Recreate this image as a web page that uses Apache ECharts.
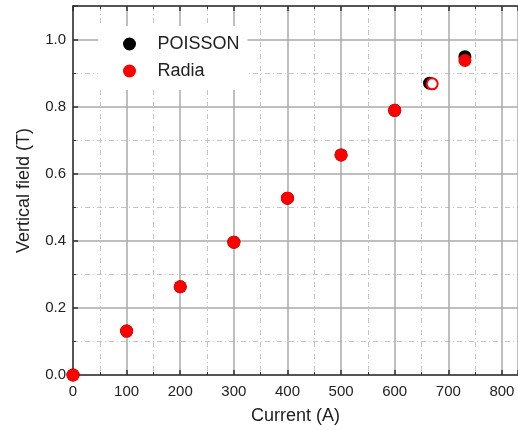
<!DOCTYPE html>
<html>
<head>
<meta charset="utf-8">
<title>Vertical field vs current</title>
<script src="https://cdn.jsdelivr.net/npm/echarts@6/dist/echarts.min.js"></script>
<style>
  html, body { margin: 0; padding: 0; background: #fff; }
  #main { width: 518px; height: 430px; }
</style>
</head>
<body>
<div id="main"></div>
<script>
// readings
var poissonCurrent = [0, 100, 200, 300, 400, 500, 600, 665, 731];
var poissonField   = [0, 0.131, 0.263, 0.396, 0.527, 0.656, 0.789, 0.870, 0.949];
var radiaCurrent   = [0, 100, 200, 300, 400, 500, 600, 670, 731];
var radiaField     = [0, 0.131, 0.263, 0.396, 0.527, 0.656, 0.789, 0.868, 0.9375];
var hollowIndex = 7; // open marker in the Radia series

function pairs(xs, ys) {
  return xs.map(function (x, i) { return [x, ys[i]]; });
}

var radiaData = pairs(radiaCurrent, radiaField).map(function (p, i) {
  if (i === hollowIndex) {
    return { value: p, itemStyle: { color: '#fff', borderColor: '#ff0000', borderWidth: 2 }, symbolSize: 11 };
  }
  return p;
});

var font = 'Liberation Sans, Arial, sans-serif';
var axisLine = { show: true, onZero: false, lineStyle: { color: '#333', width: 1.5 } };
var majorGrid = { show: true, lineStyle: { color: '#aaa', width: 1.5 } };
var minorGrid = { show: true, lineStyle: { color: '#c4c4c4', width: 1, type: [5, 3, 1, 3] } };
var tickIn = { show: true, inside: true, length: 5, lineStyle: { color: '#333', width: 1.5 } };
var minorIn = { show: true, inside: true, length: 3, splitNumber: 2, lineStyle: { color: '#333', width: 1 } };

var chart = echarts.init(document.getElementById('main'));
chart.setOption({
  animation: false,
  grid: { left: 73, right: 0, top: 6, bottom: 54 },
  legend: {
    orient: 'vertical',
    left: 98, top: 26,
    padding: [9, 8, 10, 25],
    itemGap: 9,
    itemWidth: 14, itemHeight: 13,
    backgroundColor: '#fff',
    textStyle: { fontSize: 18, color: '#222', fontFamily: font, padding: [0, 0, 0, 16] },
    data: [
      { name: 'POISSON', icon: 'circle' },
      { name: 'Radia', icon: 'circle' }
    ]
  },
  xAxis: [{
    type: 'value', min: 0, max: 830, interval: 100,
    name: 'Current (A)', nameLocation: 'middle', nameGap: 32,
    nameTextStyle: { fontSize: 18, color: '#222', fontFamily: font },
    axisLine: axisLine, axisTick: tickIn, minorTick: minorIn,
    splitLine: majorGrid, minorSplitLine: minorGrid,
    axisLabel: { showMaxLabel: false, fontSize: 15, color: '#222', margin: 9, fontFamily: font }
  }, {
    type: 'value', position: 'top', min: 0, max: 830, interval: 100,
    axisLine: axisLine, axisTick: tickIn, minorTick: minorIn,
    splitLine: { show: false }, axisLabel: { show: false }
  }],
  yAxis: {
    type: 'value', min: 0, max: 1.1, interval: 0.2,
    name: 'Vertical field (T)', nameLocation: 'middle', nameGap: 40,
    nameTextStyle: { fontSize: 18, color: '#222', fontFamily: font },
    axisLine: axisLine, axisTick: tickIn, minorTick: minorIn,
    splitLine: majorGrid, minorSplitLine: minorGrid,
    axisLabel: {
      showMaxLabel: false, fontSize: 15, color: '#222', margin: 7, fontFamily: font,
      formatter: function (v) { return v.toFixed(1); }
    }
  },
  series: [{
    name: 'POISSON', type: 'scatter', symbol: 'circle', symbolSize: 13,
    itemStyle: { color: '#000', opacity: 1 },
    data: pairs(poissonCurrent, poissonField)
  }, {
    name: 'Radia', type: 'scatter', symbol: 'circle', symbolSize: 13,
    itemStyle: { color: '#ff0000', opacity: 1 },
    data: radiaData
  }]
});
</script>
</body>
</html>
